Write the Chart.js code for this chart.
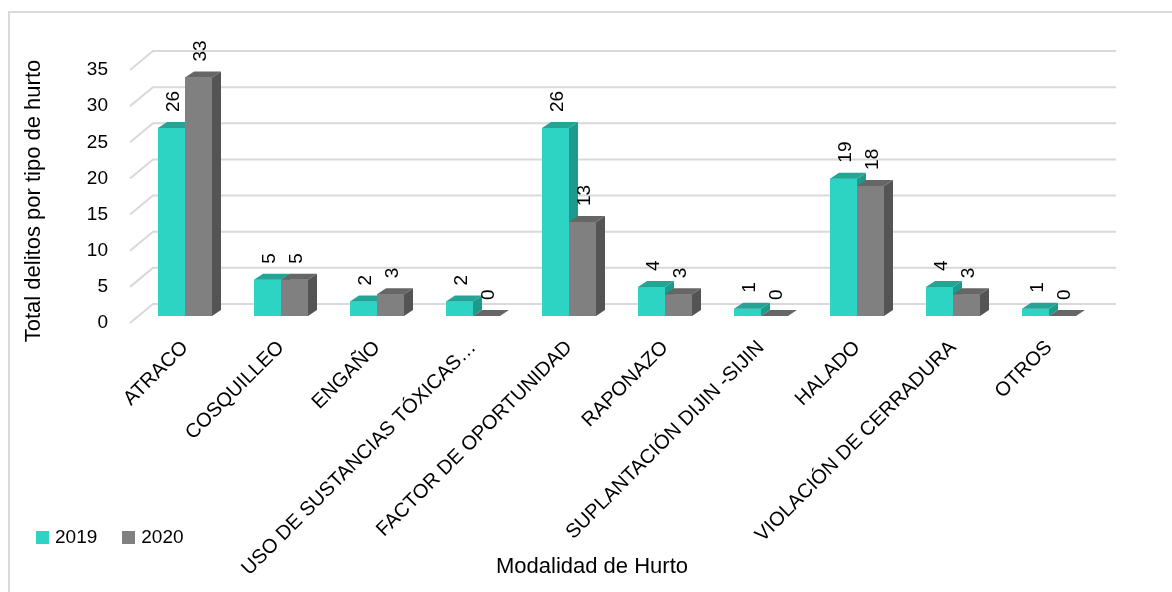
<!DOCTYPE html>
<html>
<head>
<meta charset="utf-8">
<script src="https://cdn.jsdelivr.net/npm/chart.js@4.4.1/dist/chart.umd.min.js"></script>
<style>
  html, body { margin: 0; padding: 0; background: #fff; overflow: hidden; }
  #marco { position: absolute; left: 8px; top: 11px; width: 1200px; height: 700px; border: 2px solid #d9d9d9; }
  #grafica { position: absolute; left: 0; top: 0; }
  #leyenda { position: absolute; left: 36px; top: 526px; display: flex; align-items: center;
             font: 19px 'Liberation Sans', Arial, sans-serif; color: #000; }
  #leyenda span.caja { display: inline-block; width: 13px; height: 13px; margin-right: 6px; }
  #leyenda span.item { display: inline-flex; align-items: center; margin-right: 25px; }
</style>
</head>
<body>
<div id="marco"></div>
<canvas id="grafica" width="1172" height="592"></canvas>
<div id="leyenda"></div>
<script>
const FUENTE = "'Liberation Sans', Arial, sans-serif";
Chart.defaults.font.family = FUENTE;
Chart.defaults.color = '#000';

// Modalidades de hurto (eje x)
const categorias = [
    "ATRACO",
    "COSQUILLEO",
    "ENGAÑO",
    "USO DE SUSTANCIAS TÓXICAS…",
    "FACTOR DE OPORTUNIDAD",
    "RAPONAZO",
    "SUPLANTACIÓN DIJIN -SIJIN",
    "HALADO",
    "VIOLACIÓN DE CERRADURA",
    "OTROS"
];

// Valores por año
const valores2019 = [26, 5, 2, 2, 26, 4, 1, 19, 4, 1];
const valores2020 = [33, 5, 3, 0, 13, 3, 0, 18, 3, 0];

// Marcas del eje y
const marcasY = [0, 5, 10, 15, 20, 25, 30, 35];

const tituloY = "Total delitos por tipo de hurto";
const tituloX = "Modalidad de Hurto";

// Colores: frente, lado y tapa de cada serie
const colores = [
    { frente: '#2DD4C4', lado: '#1E9A8C', tapa: '#22A595' },
    { frente: '#808080', lado: '#545454', tapa: '#666666' }
];

// Profundidad de las barras
const PROF_DX = 9, PROF_DY = -6;

const barras3D = {
    id: 'barras3D',
    beforeDatasetsDraw(chart) {
        // pared del fondo y piso, con las marcas del eje y
        const { ctx, chartArea, scales: { y } } = chart;
        ctx.save();
        ctx.strokeStyle = '#d9d9d9';
        ctx.lineWidth = 2;
        y.ticks.forEach(t => {
            const py = y.getPixelForValue(t.value);
            ctx.beginPath();
            ctx.moveTo(chartArea.left - 7, py + 7);
            ctx.lineTo(chartArea.left + 16, py - 12);
            ctx.lineTo(chartArea.right + 19, py - 12);
            ctx.stroke();
        });
        ctx.restore();
    },
    afterDatasetsDraw(chart) {
        const ctx = chart.ctx;
        const n = chart.data.labels.length;
        ctx.save();
        for (let i = 0; i < n; i++) {
            chart.data.datasets.forEach((ds, d) => {
                const barra = chart.getDatasetMeta(d).data[i];
                const { x, y, base, width } = barra.getProps(['x', 'y', 'base', 'width'], true);
                const izq = x - width / 2, der = x + width / 2;
                const c = colores[d];
                // frente
                ctx.fillStyle = c.frente;
                ctx.fillRect(izq, y, width, base - y);
                // lado
                ctx.fillStyle = c.lado;
                ctx.beginPath();
                ctx.moveTo(der, y);
                ctx.lineTo(der + PROF_DX, y + PROF_DY);
                ctx.lineTo(der + PROF_DX, base + PROF_DY);
                ctx.lineTo(der, base);
                ctx.closePath();
                ctx.fill();
                // tapa
                ctx.fillStyle = c.tapa;
                ctx.beginPath();
                ctx.moveTo(izq, y);
                ctx.lineTo(izq + PROF_DX, y + PROF_DY);
                ctx.lineTo(der + PROF_DX, y + PROF_DY);
                ctx.lineTo(der, y);
                ctx.closePath();
                ctx.fill();
            });
        }
        // etiquetas de valor, giradas
        ctx.fillStyle = '#000';
        ctx.font = '19px ' + FUENTE;
        ctx.textAlign = 'left';
        ctx.textBaseline = 'middle';
        chart.data.datasets.forEach((ds, d) => {
            chart.getDatasetMeta(d).data.forEach((barra, i) => {
                const { x, y } = barra.getProps(['x', 'y'], true);
                ctx.save();
                ctx.translate(x + 2, y - 16);
                ctx.rotate(-Math.PI / 2);
                ctx.fillText(String(ds.data[i]), 0, 0);
                ctx.restore();
            });
        });
        ctx.restore();
    },
    afterDraw(chart) {
        // títulos de los ejes
        const ctx = chart.ctx;
        ctx.save();
        ctx.fillStyle = '#000';
        ctx.textAlign = 'center';
        ctx.textBaseline = 'middle';
        ctx.font = '22px ' + FUENTE;
        ctx.fillText(tituloX, 592, 567);
        ctx.translate(34, 201);
        ctx.rotate(-Math.PI / 2);
        ctx.fillText(tituloY, 0, 0);
        ctx.restore();
    }
};

const grafica = document.getElementById("grafica");

const chart = new Chart(grafica, {
    type: 'bar',
    data: {
        labels: categorias,
        datasets: [
            { label: '2019', data: valores2019, backgroundColor: colores[0].frente, categoryPercentage: 0.5625, barPercentage: 1, borderWidth: 0 },
            { label: '2020', data: valores2020, backgroundColor: colores[1].frente, categoryPercentage: 0.5625, barPercentage: 1, borderWidth: 0 }
        ]
    },
    options: {
        responsive: false,
        animation: false,
        layout: { padding: { left: 17, top: 63, right: 75, bottom: 0 } },
        plugins: { legend: { display: false }, tooltip: { enabled: false } },
        scales: {
            x: {
                grid: { display: false, drawTicks: false },
                border: { display: false },
                ticks: { font: { size: 20 }, minRotation: 45, maxRotation: 45, padding: 20, labelOffset: 0, autoSkip: false },
                afterFit: s => { s.height = 276; }
            },
            y: {
                min: 0,
                max: 35,
                afterBuildTicks: s => { s.ticks = marcasY.map(v => ({ value: v })); },
                grid: { display: false, drawTicks: false },
                border: { display: false },
                ticks: { font: { size: 19 }, padding: 29, labelOffset: 7 },
                afterFit: s => { s.width = 120; }
            }
        }
    },
    plugins: [barras3D]
});

// Leyenda en HTML, abajo a la izquierda
const leyenda = document.getElementById('leyenda');
chart.data.datasets.forEach(ds => {
    const item = document.createElement('span');
    item.className = 'item';
    const caja = document.createElement('span');
    caja.className = 'caja';
    caja.style.background = ds.backgroundColor;
    item.appendChild(caja);
    item.appendChild(document.createTextNode(ds.label));
    leyenda.appendChild(item);
});
</script>
</body>
</html>
